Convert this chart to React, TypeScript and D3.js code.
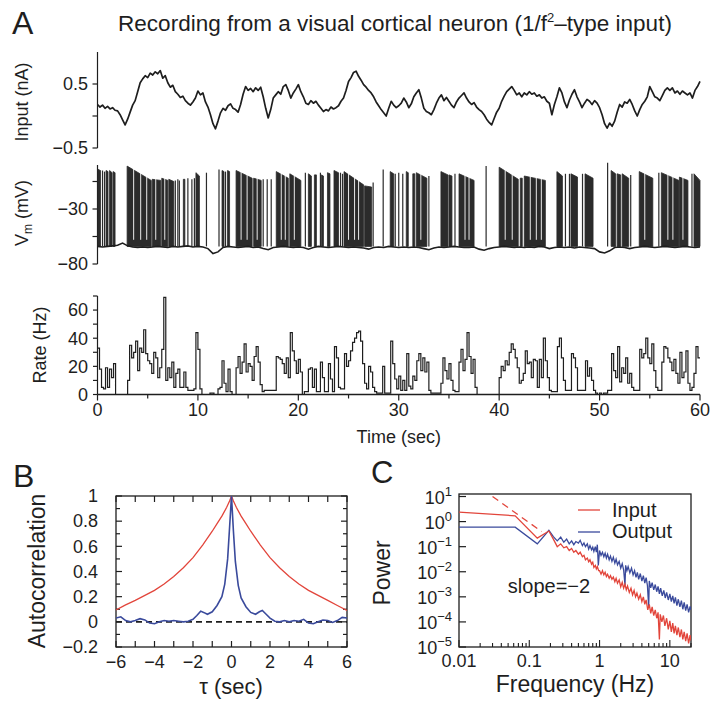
import React from 'react';
import * as d3 from 'd3';

const FONT = '"Liberation Sans", Arial, Helvetica, sans-serif';
const INK = '#1e1e1e';
const RED = '#e2453b';
const BLUE = '#3a4a9c';

// ---- Panel A: injected current, one sample every 0.25 s (nA)
const inputStep = 0.25;
const inputNA = [
  0.18, 0.14, 0.17, 0.12, 0.15, 0.11, 0.13, 0.09, 0.08, 0.02, -0.06, -0.14,
  -0.05, 0.06, 0.17, 0.24, 0.38, 0.52, 0.58, 0.63, 0.6, 0.67, 0.64, 0.69,
  0.66, 0.71, 0.59, 0.63, 0.52, 0.45, 0.48, 0.38, 0.34, 0.29, 0.31, 0.24,
  0.2, 0.17, 0.22, 0.28, 0.39, 0.33, 0.36, 0.22, 0.14, 0.02, -0.12, -0.2,
  -0.08, 0.05, 0.12, 0.09, 0.16, 0.19, 0.12, 0.1, 0.06, 0.18, 0.34, 0.46,
  0.4, 0.43, 0.38, 0.44, 0.4, 0.45, 0.3, 0.12, -0.03, 0.1, 0.28, 0.33,
  0.38, 0.34, 0.46, 0.49, 0.4, 0.28, 0.36, 0.42, 0.49, 0.38, 0.3, 0.2,
  0.18, 0.24, 0.2, 0.23, 0.17, 0.12, 0.07, 0.1, 0.08, 0.14, 0.11, 0.13,
  0.16, 0.23, 0.28, 0.4, 0.54, 0.6, 0.68, 0.7, 0.62, 0.56, 0.49, 0.45,
  0.4, 0.36, 0.3, 0.22, 0.16, 0.1, 0.05, 0.0, 0.12, 0.23, 0.17, 0.13,
  0.16, 0.2, 0.28, 0.22, 0.13, 0.19, 0.3, 0.36, 0.41, 0.28, 0.12, 0.07,
  0.05, 0.02, 0.1, 0.2, 0.28, 0.33, 0.24, 0.29, 0.23, 0.17, 0.13, 0.22,
  0.28, 0.32, 0.36, 0.28, 0.22, 0.18, 0.21, 0.14, 0.1, 0.07, 0.02, -0.05,
  -0.1, -0.14, -0.04, 0.06, 0.12, 0.23, 0.31, 0.38, 0.42, 0.46, 0.4, 0.33,
  0.36, 0.3, 0.36, 0.33, 0.38, 0.34, 0.36, 0.31, 0.33, 0.28, 0.3, 0.23,
  0.2, 0.02, 0.18, 0.3, 0.44, 0.36, 0.22, 0.13, 0.25, 0.34, 0.41, 0.3,
  0.22, 0.13, 0.2, 0.26, 0.23, 0.18, 0.24, 0.2, 0.13, 0.02, -0.12, -0.19,
  -0.11, -0.16, -0.08, 0.06, 0.18, 0.14, 0.22, 0.2, 0.26, 0.18, 0.08, 0.0,
  0.1, 0.18, 0.23, 0.3, 0.46, 0.38, 0.3, 0.28, 0.24, 0.32, 0.4, 0.44,
  0.4, 0.44, 0.36, 0.39, 0.34, 0.39, 0.36, 0.33, 0.36, 0.28, 0.4, 0.46,
  0.54,
];

// ---- Panel A: membrane potential
const vmStep = 0.5;
const vmBaseline = [
  -64, -64.5, -64, -63.5, -63, -61, -63.5, -64.5, -65, -64.5,
  -65, -64.5, -64, -64.5, -65, -64, -64.5, -64, -63.5, -64.5,
  -64, -64.5, -66, -70.5, -69, -65, -64, -64.5, -65, -64.5,
  -64, -65, -64.5, -66, -67, -65, -64.5, -64, -64.5, -65,
  -64.5, -65, -66.5, -65, -64, -64.5, -65, -64.5, -64, -64.5,
  -65, -64.5, -65, -65.5, -66.5, -65, -64.5, -65, -64, -64.5,
  -65, -64.5, -65, -64.5, -65, -66, -67, -65.5, -64.5, -65,
  -64.5, -64, -64.5, -65, -65, -64.5, -66.5, -67.5, -66, -65,
  -64.5, -64, -64.5, -65, -64.5, -65, -64.5, -65, -64, -64.5,
  -66, -65, -64.5, -65, -64.5, -65.5, -64.5, -65, -65.5, -66,
  -69, -70, -68, -65, -64.5, -65, -66, -65, -64.5, -64,
  -64.5, -65, -64.5, -64, -64.5, -65, -64.5, -64, -64.5, -65,
  -64.5,
];
// dense spike bursts: [start s, end s, peak mV at start, peak mV at end]
const vmBursts = [
  [0.05, 0.3, 6, 5], [0.85, 1.05, 5, 4], [1.2, 1.45, 5, 3], [1.55, 1.75, 4, 3],
  [2.95, 5.35, 9, -4], [5.45, 6.3, -3, -4], [6.4, 7.0, -2, -4], [7.1, 7.6, -3, -5],
  [8.55, 8.7, -3, -3], [9.8, 10.15, 3, 0], [12.4, 12.6, 5, 4], [12.95, 13.15, 5, 4],
  [13.8, 15.4, 5, -2], [15.55, 16.3, -2, -4], [17.8, 19.0, 4, -2], [19.15, 20.25, 2, -4],
  [21.0, 21.3, 2, 0], [21.6, 21.8, 1, 1], [22.3, 22.5, 1, 0], [22.9, 23.15, 3, 2],
  [23.55, 24.0, 5, 3], [24.55, 26.5, 4, -8], [26.6, 27.3, -9, -10], [29.15, 29.5, 4, 2],
  [30.75, 30.95, 4, 3], [31.4, 31.6, 2, 2], [31.75, 32.8, 3, -2], [34.2, 34.9, 4, 1],
  [35.0, 35.3, 1, 0], [36.0, 37.5, 2, -4], [40.0, 41.9, 8, -3], [42.1, 42.3, -2, -2],
  [42.5, 44.6, 0, -4], [45.75, 46.3, 4, 0], [47.15, 47.8, 2, -1], [48.55, 49.35, 2, -2],
  [51.15, 51.6, 5, 2], [51.75, 52.1, 2, 1], [52.25, 52.9, 2, -2], [53.95, 55.3, 4, -2],
  [56.15, 57.9, 3, -4], [57.95, 58.8, -1, -4], [59.4, 60.0, 2, -4],
];
// isolated spikes: [time s, peak mV]
const vmSpikes = [
  [0.5, 5], [0.7, 4], [7.75, -4], [8.0, -3], [8.15, -4], [9.0, -2], [9.4, -3],
  [9.65, -2], [10.85, 3], [12.1, 6], [12.75, 4], [16.5, -3], [16.9, -3], [17.3, -3],
  [20.7, 3], [22.2, 3], [24.2, 3], [24.4, 2], [27.45, -6], [28.45, 6], [29.65, 2],
  [30.0, 3], [30.4, 2], [33.0, 0], [35.6, 2], [38.7, 9], [46.6, 2], [47.0, 2],
  [48.3, 2], [50.8, 12], [53.1, 1], [55.9, 3], [59.2, 2],
];
// thin gaps seen inside the long bursts (s)
const vmGaps = [3.6, 4.3, 4.9, 5.8, 6.7, 14.3, 14.9, 15.9, 18.3, 18.7, 19.6, 25.0, 25.6, 26.0, 32.2, 36.6, 37.0,
  40.6, 41.3, 43.1, 43.7, 44.2, 54.5, 56.8, 57.3, 58.3];

// ---- Panel A: firing rate, 0.2 s bins (Hz)
const rateStep = 0.2;
const rateHz = [
  33, 18, 5, 4, 19, 5, 18, 12, 22, 0, 0, 0, 0, 0, 0, 10, 35, 26, 30, 38,
  17, 33, 30, 46, 29, 24, 22, 15, 30, 26, 12, 19, 32, 69, 10, 19, 12, 23, 5, 15,
  18, 5, 5, 16, 5, 3, 3, 3, 4, 44, 32, 4, 0, 0, 0, 0, 1, 1, 0, 0,
  4, 5, 24, 8, 2, 18, 2, 0, 0, 19, 27, 15, 23, 36, 16, 22, 20, 10, 27, 34,
  23, 7, 2, 3, 3, 3, 3, 3, 3, 27, 26, 25, 22, 15, 26, 12, 44, 31, 24, 15,
  25, 16, 0, 2, 2, 18, 19, 5, 18, 2, 2, 23, 12, 2, 2, 22, 11, 2, 34, 26,
  5, 4, 4, 29, 20, 24, 31, 37, 40, 44, 45, 38, 22, 8, 4, 20, 16, 5, 2, 1,
  1, 1, 20, 1, 1, 1, 38, 22, 11, 4, 13, 3, 10, 3, 29, 6, 4, 13, 10, 24,
  29, 17, 26, 16, 23, 3, 1, 1, 1, 1, 1, 8, 26, 17, 11, 22, 10, 3, 2, 2,
  23, 32, 17, 25, 44, 27, 15, 25, 5, 0, 0, 0, 0, 0, 0, 0, 0, 0, 0, 0,
  12, 20, 17, 24, 21, 30, 36, 32, 26, 19, 8, 10, 15, 31, 22, 23, 12, 25, 24, 5,
  25, 12, 40, 24, 12, 3, 2, 2, 2, 34, 40, 26, 10, 3, 3, 3, 29, 26, 19, 3,
  3, 3, 3, 24, 13, 19, 10, 3, 1, 0, 1, 0, 1, 1, 3, 3, 29, 17, 12, 34,
  9, 19, 15, 26, 8, 15, 5, 3, 3, 3, 32, 26, 29, 40, 26, 22, 36, 17, 5, 3,
  3, 23, 34, 33, 26, 23, 17, 25, 15, 8, 30, 12, 16, 31, 8, 3, 5, 15, 34, 26,
];

const timeTicks = [0, 10, 20, 30, 40, 50, 60];
const timeMinor = [5, 15, 25, 35, 45, 55];
const inputTicks = [0.5, 0, -0.5];
const inputLabels = [0.5, -0.5];
const vmTicks = [-80, -55, -30, -5];
const vmLabels = [-30, -80];
const rateTicks = [0, 10, 20, 30, 40, 50, 60, 70];
const rateLabels = [0, 20, 40, 60];

// ---- Panel B: autocorrelation
const lagIn = [-6, -5.5, -5, -4.5, -4, -3.5, -3, -2.5, -2, -1.5, -1, -0.75, -0.5, -0.25, -0.1, 0,
  0.1, 0.25, 0.5, 0.75, 1, 1.5, 2, 2.5, 3, 3.5, 4, 4.5, 5, 5.5, 6];
const acInput = [0.095, 0.135, 0.17, 0.21, 0.25, 0.3, 0.36, 0.43, 0.51, 0.61, 0.72, 0.78, 0.84, 0.91, 0.96, 1.0,
  0.96, 0.91, 0.84, 0.78, 0.72, 0.61, 0.51, 0.43, 0.36, 0.3, 0.25, 0.21, 0.17, 0.13, 0.09];
const lagOut = [-6, -5.75, -5.5, -5.25, -5, -4.75, -4.5, -4.25, -4, -3.75, -3.5, -3.25, -3, -2.75, -2.5, -2.25, -2,
  -1.8, -1.6, -1.45, -1.25, -1.0, -0.75, -0.5, -0.35, -0.2, -0.1, 0,
  0.1, 0.2, 0.35, 0.5, 0.75, 1.0, 1.25, 1.45, 1.6, 1.8,
  2.0, 2.25, 2.5, 2.75, 3, 3.25, 3.5, 3.75, 4, 4.25, 4.5, 4.75, 5, 5.25, 5.5, 5.75, 6];
const acOutput = [0.03, 0.04, 0.01, 0.0, 0.01, 0.025, 0.015, -0.01, -0.015, 0.0, 0.01, 0.005, 0.01, 0.005, 0.0, 0.005, 0.02,
  0.05, 0.085, 0.075, 0.06, 0.08, 0.13, 0.2, 0.3, 0.5, 0.75, 1.0,
  0.72, 0.48, 0.29, 0.19, 0.12, 0.075, 0.06, 0.08, 0.09, 0.06,
  0.03, 0.005, 0.0, 0.01, 0.0, 0.01, 0.005, 0.02, -0.01, -0.015, 0.0, 0.015, 0.01, -0.005, 0.01, 0.035, 0.03];
const lagTicks = [-6, -5, -4, -3, -2, -1, 0, 1, 2, 3, 4, 5, 6];
const lagLabels = [-6, -4, -2, 0, 2, 4, 6];
const acMajor = [-0.2, 0, 0.2, 0.4, 0.6, 0.8, 1];
const acMinor = [-0.1, 0.1, 0.3, 0.5, 0.7, 0.9];

// ---- Panel C: power spectra, [frequency Hz, power]
const specInput = [
  [0.01, 2.4], [0.063, 1.7], [0.13, 0.22], [0.19, 0.42], [0.22, 0.2], [0.25, 0.1], [0.28, 0.13],
  [0.31, 0.09], [0.34, 0.1], [0.37, 0.07], [0.4, 0.085], [0.43, 0.06], [0.46, 0.07], [0.5, 0.05],
  [0.53, 0.06], [0.57, 0.04], [0.6, 0.045], [0.63, 0.03], [0.67, 0.035], [0.7, 0.025], [0.73, 0.03],
  [0.77, 0.02], [0.8, 0.024], [0.83, 0.015], [0.87, 0.018], [0.9, 0.013], [0.93, 0.016], [0.97, 0.011],
  [1.0, 0.011], [1.05, 0.008], [1.1, 0.011], [1.15, 0.0075], [1.2, 0.0095], [1.25, 0.0065], [1.3, 0.008],
  [1.37, 0.0055], [1.43, 0.007], [1.5, 0.005], [1.57, 0.0062], [1.65, 0.004], [1.72, 0.0055], [1.8, 0.0035],
  [1.9, 0.0047], [2.0, 0.0025], [2.1, 0.0038], [2.2, 0.0022], [2.3, 0.0032], [2.4, 0.0019], [2.5, 0.0027],
  [2.65, 0.0015], [2.8, 0.0022], [2.95, 0.0012], [3.1, 0.0018], [3.25, 0.001], [3.4, 0.0014], [3.6, 0.0008],
  [3.8, 0.0012], [4.0, 0.00065], [4.2, 0.001], [4.4, 0.0005], [4.6, 0.00075], [4.85, 0.0003], [5.1, 0.0005],
  [5.35, 0.00022], [5.6, 0.0004], [5.9, 0.00018], [6.2, 0.0003], [6.5, 0.00014], [6.8, 0.00024], [7.1, 0.00002],
  [7.3, 0.0002], [7.7, 0.0001], [8.1, 0.00018], [8.5, 0.00007], [9.0, 0.00014], [9.5, 0.00005], [10, 0.00011],
  [10.5, 0.00004], [11, 0.00009], [11.5, 0.000035], [12, 0.00007], [12.6, 0.00003], [13.2, 0.00006],
  [13.9, 0.000025], [14.6, 0.00005], [15.3, 0.00002], [16, 0.00004], [16.8, 0.000017], [17.6, 0.000035],
  [18.5, 0.000014], [19.4, 0.00003], [20, 0.000018],
];
const specOutput = [
  [0.01, 0.6], [0.063, 0.6], [0.13, 0.13], [0.19, 0.45], [0.22, 0.25], [0.25, 0.17], [0.28, 0.24],
  [0.31, 0.15], [0.34, 0.2], [0.37, 0.13], [0.4, 0.17], [0.43, 0.12], [0.46, 0.16], [0.5, 0.14],
  [0.53, 0.18], [0.57, 0.11], [0.6, 0.14], [0.63, 0.1], [0.67, 0.13], [0.7, 0.08], [0.73, 0.11],
  [0.77, 0.075], [0.8, 0.095], [0.83, 0.065], [0.87, 0.1], [0.9, 0.06], [0.93, 0.12], [0.96, 0.018],
  [1.0, 0.07], [1.05, 0.045], [1.1, 0.06], [1.15, 0.04], [1.2, 0.055], [1.25, 0.035], [1.3, 0.05],
  [1.37, 0.03], [1.43, 0.042], [1.5, 0.026], [1.57, 0.038], [1.65, 0.022], [1.72, 0.032], [1.8, 0.019],
  [1.9, 0.026], [2.0, 0.014], [2.1, 0.021], [2.2, 0.012], [2.3, 0.003], [2.35, 0.018], [2.45, 0.011],
  [2.55, 0.016], [2.7, 0.009], [2.85, 0.014], [3.0, 0.0075], [3.15, 0.011], [3.3, 0.006], [3.45, 0.0095],
  [3.6, 0.005], [3.8, 0.0085], [4.0, 0.0042], [4.2, 0.007], [4.4, 0.0035], [4.6, 0.0058], [4.8, 0.0028],
  [5.0, 0.0004], [5.1, 0.0043], [5.35, 0.0023], [5.6, 0.0037], [5.9, 0.0019], [6.2, 0.0031], [6.5, 0.0016],
  [6.8, 0.0026], [7.1, 0.0013], [7.4, 0.0022], [7.8, 0.0011], [8.2, 0.0018], [8.6, 0.0009], [9.0, 0.0015],
  [9.5, 0.00075], [10, 0.0013], [10.5, 0.00065], [11, 0.0011], [11.5, 0.00055], [12, 0.00095],
  [12.6, 0.00045], [13.2, 0.0008], [13.9, 0.0004], [14.6, 0.0007], [15.3, 0.00032], [16, 0.0006],
  [16.8, 0.00028], [17.6, 0.0005], [18.5, 0.00024], [19.4, 0.00042], [20, 0.0003],
];
const slopeRef = [[0.03, 10], [0.15, 0.4]];
const powerDecades = [-5, -4, -3, -2, -1, 0, 1];
const freqLabels = ['0.01', '0.1', '1', '10'];

const minus = (s: string) => s.replace('-', '\u2212');

export default function App() {
  // panel A scales
  const xT = d3.scaleLinear().domain([0, 60]).range([97.5, 700]);
  const yIn = d3.scaleLinear().domain([-0.5, 1.0]).range([148, 52]);
  const yVm = d3.scaleLinear().domain([-80, 10]).range([264, 165]);
  const yRate = d3.scaleLinear().domain([0, 70]).range([394.5, 296]);

  // panel B scales
  const xB = d3.scaleLinear().domain([-6, 6]).range([116, 347]);
  const yB = d3.scaleLinear().domain([-0.2, 1]).range([647, 496]);

  // panel C scales
  const xC = d3.scaleLog().domain([0.01, 20]).range([459, 691]);
  const yC = d3.scaleLog().domain([1e-5, Math.pow(10, 1.1)]).range([647, 494]);

  const inputLine = d3.line<number>()
    .x((d, i) => xT(i * inputStep))
    .y(d => yIn(d));

  const vmLine = d3.line<number>()
    .x((d, i) => xT(i * vmStep))
    .y(d => yVm(d));

  const burstArea = d3.area<number[]>()
    .x(d => xT(d[0]))
    .y0(yVm(-64))
    .y1(d => yVm(d[1]));

  const rateLine = d3.line<number[]>()
    .x(d => xT(d[0]))
    .y(d => yRate(d[1]))
    .curve(d3.curveStepAfter);
  const ratePts = rateHz.map((v, i) => [i * rateStep, v]);
  ratePts.push([60, rateHz[rateHz.length - 1]]);

  const acLine = d3.line<number>();
  const inPts = lagIn.map((t, i) => [xB(t), yB(acInput[i])] as [number, number]);
  const outPts = lagOut.map((t, i) => [xB(t), yB(acOutput[i])] as [number, number]);

  const specLine = d3.line<number[]>()
    .x(d => xC(d[0]))
    .y(d => yC(d[1]));

  const xTicksC = xC.ticks();

  const tickText = { fontFamily: FONT, fontSize: 18, fill: INK };
  const labelText = { fontFamily: FONT, fontSize: 18, fill: INK };

  return (
    <svg width={710} height={703} style={{ position: 'absolute', left: 0, top: 0, background: '#fff' }}>
      <defs>
        <clipPath id="clipB"><rect x={116} y={496} width={231} height={151} /></clipPath>
        <clipPath id="clipC"><rect x={459} y={494} width={232} height={153} /></clipPath>
      </defs>

      {/* ---------- Panel A ---------- */}
      <text x={12} y={34} fontFamily={FONT} fontSize={32} fill={INK}>A</text>
      <text x={395} y={31} textAnchor="middle" fontFamily={FONT} fontSize={22.5} fill={INK}>
        Recording from a visual cortical neuron (1/f<tspan dy={-9} fontSize={13}>2</tspan><tspan dy={9}>–type input)</tspan>
      </text>

      {/* input current */}
      <line x1={97.5} x2={97.5} y1={yIn(1)} y2={yIn(-0.5)} stroke={INK} strokeWidth={1.2} />
      {inputTicks.map(t => (
        <line key={t} x1={92.5} x2={97.5} y1={yIn(t)} y2={yIn(t)} stroke={INK} strokeWidth={1.2} />
      ))}
      {inputLabels.map(t => (
        <text key={t} x={88} y={yIn(t)} dy="0.35em" textAnchor="end" {...tickText}>{minus(String(t))}</text>
      ))}
      <text transform={`translate(28,${102}) rotate(-90)`} textAnchor="middle" {...labelText}>Input (nA)</text>
      <path d={inputLine(inputNA) || ''} fill="none" stroke={INK} strokeWidth={1.7} strokeLinejoin="round" />

      {/* membrane potential */}
      <line x1={97.5} x2={97.5} y1={yVm(10)} y2={yVm(-80)} stroke={INK} strokeWidth={1.2} />
      {vmTicks.map(t => (
        <line key={t} x1={92.5} x2={97.5} y1={yVm(t)} y2={yVm(t)} stroke={INK} strokeWidth={1.2} />
      ))}
      {vmLabels.map(t => (
        <text key={t} x={88} y={yVm(t)} dy="0.35em" textAnchor="end" {...tickText}>{minus(String(t))}</text>
      ))}
      <text transform={`translate(28,${213}) rotate(-90)`} textAnchor="middle" {...labelText}>
        V<tspan fontSize={12} dy={4}>m</tspan><tspan dy={-4}> (mV)</tspan>
      </text>
      {vmBursts.map((b, i) => (
        <path key={i} d={burstArea([[b[0], b[2]], [b[1], b[3]]]) || ''} fill="#2b2b2b" stroke="#2b2b2b" strokeWidth={0.8} />
      ))}
      {vmGaps.map((t, i) => (
        <line key={i} x1={xT(t)} x2={xT(t)} y1={yVm(-58)} y2={yVm(10)} stroke="#fff" strokeWidth={0.9} />
      ))}
      {vmSpikes.map((s, i) => (
        <line key={i} x1={xT(s[0])} x2={xT(s[0])} y1={yVm(-64)} y2={yVm(s[1])} stroke="#2b2b2b" strokeWidth={1.2} />
      ))}
      <path d={vmLine(vmBaseline) || ''} fill="none" stroke={INK} strokeWidth={1.6} />

      {/* firing rate */}
      <line x1={97.5} x2={97.5} y1={yRate(70)} y2={yRate(0)} stroke={INK} strokeWidth={1.2} />
      {rateTicks.map(t => (
        <line key={t} x1={93} x2={97.5} y1={yRate(t)} y2={yRate(t)} stroke={INK} strokeWidth={1.2} />
      ))}
      {rateLabels.map(t => (
        <text key={t} x={88} y={yRate(t)} dy="0.35em" textAnchor="end" {...tickText}>{t}</text>
      ))}
      <text transform={`translate(46,${345}) rotate(-90)`} textAnchor="middle" {...labelText}>Rate (Hz)</text>
      <path d={rateLine(ratePts) || ''} fill="none" stroke={INK} strokeWidth={1.2} />

      {/* time axis */}
      <line x1={xT(0)} x2={xT(60)} y1={yRate(0)} y2={yRate(0)} stroke={INK} strokeWidth={1.4} />
      {timeTicks.map(t => (
        <line key={t} x1={xT(t)} x2={xT(t)} y1={yRate(0)} y2={yRate(0) + 6} stroke={INK} strokeWidth={1.2} />
      ))}
      {timeMinor.map(t => (
        <line key={t} x1={xT(t)} x2={xT(t)} y1={yRate(0)} y2={yRate(0) + 4} stroke={INK} strokeWidth={1.2} />
      ))}
      {timeTicks.map(t => (
        <text key={t} x={xT(t)} y={416} textAnchor="middle" {...tickText}>{t}</text>
      ))}
      <text x={xT(30)} y={443} textAnchor="middle" {...labelText}>Time (sec)</text>

      {/* ---------- Panel B ---------- */}
      <text x={13} y={487} fontFamily={FONT} fontSize={32} fill={INK}>B</text>
      <rect x={116} y={496} width={231} height={151} fill="none" stroke={INK} strokeWidth={1.3} />
      {lagTicks.map(t => (
        <g key={t}>
          <line x1={xB(t)} x2={xB(t)} y1={647} y2={641} stroke={INK} strokeWidth={1.2} />
          <line x1={xB(t)} x2={xB(t)} y1={496} y2={502} stroke={INK} strokeWidth={1.2} />
        </g>
      ))}
      {acMajor.map(t => (
        <g key={t}>
          <line x1={116} x2={122} y1={yB(t)} y2={yB(t)} stroke={INK} strokeWidth={1.2} />
          <line x1={347} x2={341} y1={yB(t)} y2={yB(t)} stroke={INK} strokeWidth={1.2} />
        </g>
      ))}
      {acMinor.map(t => (
        <g key={t}>
          <line x1={116} x2={120} y1={yB(t)} y2={yB(t)} stroke={INK} strokeWidth={1.2} />
          <line x1={347} x2={343} y1={yB(t)} y2={yB(t)} stroke={INK} strokeWidth={1.2} />
        </g>
      ))}
      {acMajor.map(t => (
        <text key={t} x={98} y={yB(t)} dy="0.35em" textAnchor="end" {...tickText}>{minus(String(t))}</text>
      ))}
      {lagLabels.map(t => (
        <text key={t} x={xB(t)} y={668} textAnchor="middle" {...tickText}>{minus(String(t))}</text>
      ))}
      <text x={231} y={694} textAnchor="middle" fontFamily={FONT} fontSize={22} fill={INK}>τ (sec)</text>
      <text transform={`translate(45,${571}) rotate(-90)`} textAnchor="middle" fontFamily={FONT} fontSize={23} fill={INK}>Autocorrelation</text>
      <g clipPath="url(#clipB)">
        <line x1={xB(-6)} x2={xB(6)} y1={yB(0)} y2={yB(0)} stroke={INK} strokeWidth={1.6} strokeDasharray="6 4" />
        <path d={acLine(inPts) || ''} fill="none" stroke={RED} strokeWidth={1.3} />
        <path d={acLine(outPts) || ''} fill="none" stroke={BLUE} strokeWidth={1.6} />
      </g>

      {/* ---------- Panel C ---------- */}
      <text x={371} y={483} fontFamily={FONT} fontSize={31} fill={INK}>C</text>
      <rect x={459} y={494} width={232} height={153} fill="none" stroke={INK} strokeWidth={1.3} />
      {powerDecades.map(e => (
        <g key={e}>
          <line x1={459} x2={466} y1={yC(Math.pow(10, e))} y2={yC(Math.pow(10, e))} stroke={INK} strokeWidth={1.2} />
          <text x={452} y={yC(Math.pow(10, e))} dy="0.4em" textAnchor="end" {...tickText}>
            10<tspan dy={-8} fontSize={13}>{minus(String(e))}</tspan>
          </text>
        </g>
      ))}
      {xTicksC.map((f, i) => {
        const major = Math.abs(Math.log10(f) - Math.round(Math.log10(f))) < 1e-6;
        return <line key={i} x1={xC(f)} x2={xC(f)} y1={647} y2={major ? 640 : 643} stroke={INK} strokeWidth={1.1} />;
      })}
      {freqLabels.map(f => (
        <text key={f} x={xC(+f)} y={667} textAnchor="middle" {...tickText}>{f}</text>
      ))}
      <text x={575} y={692} textAnchor="middle" fontFamily={FONT} fontSize={23} fill={INK}>Frequency (Hz)</text>
      <text transform={`translate(390,${573}) rotate(-90)`} textAnchor="middle" fontFamily={FONT} fontSize={23} fill={INK}>Power</text>
      <g clipPath="url(#clipC)">
        <path d={specLine(slopeRef) || ''} fill="none" stroke={RED} strokeWidth={1.3} strokeDasharray="7 5" />
        <path d={specLine(specOutput) || ''} fill="none" stroke={BLUE} strokeWidth={1.3} />
        <path d={specLine(specInput) || ''} fill="none" stroke={RED} strokeWidth={1.3} />
      </g>
      <text x={549} y={593} textAnchor="middle" fontFamily={FONT} fontSize={20} fill={INK}>slope={minus('-2')}</text>
      <line x1={578} x2={600} y1={510} y2={510} stroke={RED} strokeWidth={1.3} />
      <text x={612} y={517} fontFamily={FONT} fontSize={20} fill={INK}>Input</text>
      <line x1={578} x2={600} y1={532} y2={532} stroke={BLUE} strokeWidth={1.3} />
      <text x={612} y={538} fontFamily={FONT} fontSize={20} fill={INK}>Output</text>
    </svg>
  );
}
